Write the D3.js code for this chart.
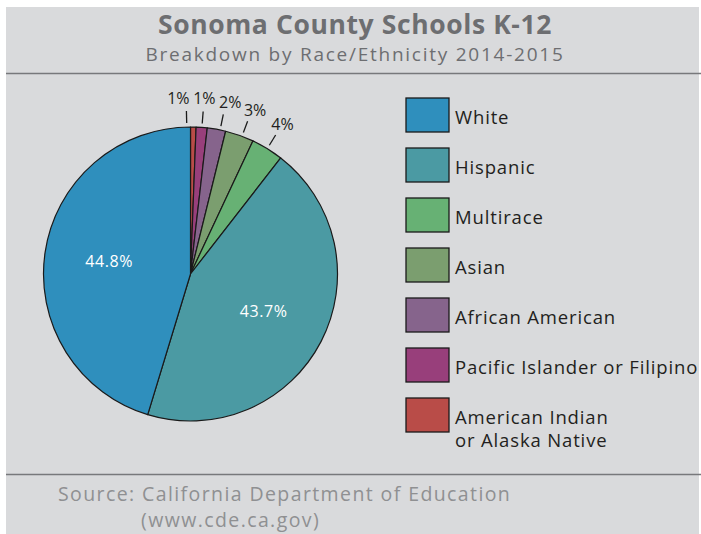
<!DOCTYPE html>
<html>
<head>
<meta charset="utf-8">
<style>
  body { margin: 0; background: #fff; }
  svg text { font-family: "Open Sans", sans-serif; }
</style>
</head>
<body>
<svg id="chart" width="701" height="534"></svg>
<script src="https://cdn.jsdelivr.net/npm/d3@7"></script>
<script>
// data, in pie order (clockwise from 12 o'clock)
const groups = ["American Indian or Alaska Native", "Pacific Islander or Filipino", "African American", "Asian", "Multirace", "Hispanic", "White"];
const shares = [0.6, 1.2, 2.0, 3.1, 3.5, 43.7, 44.8];
const shareLabels = ["1%", "1%", "2%", "3%", "4%", "43.7%", "44.8%"];
const colors = ["#b94c48", "#983f7b", "#86648c", "#7b9e6f", "#67b174", "#4b9aa3", "#2f8fbd"];
// legend runs top to bottom
const legendOrder = ["White", "Hispanic", "Multirace", "Asian", "African American", "Pacific Islander or Filipino", "American Indian or Alaska Native"];
const legendLines = [["White"], ["Hispanic"], ["Multirace"], ["Asian"], ["African American"], ["Pacific Islander or Filipino"], ["American Indian", "or Alaska Native"]];

const svg = d3.select("#chart");

svg.append("rect").attr("x", 6).attr("y", 7).attr("width", 693).attr("height", 527).attr("fill", "#d9dadc");

svg.append("text").attr("x", 355).attr("y", 34).attr("text-anchor", "middle")
  .attr("font-size", 26.5).attr("font-weight", "bold").attr("letter-spacing", 0.6).attr("fill", "#6d6e71")
  .text("Sonoma County Schools K-12");
svg.append("text").attr("x", 355).attr("y", 61).attr("text-anchor", "middle")
  .attr("font-size", 19).attr("letter-spacing", 1.75).attr("fill", "#6d6e71")
  .text("Breakdown by Race/Ethnicity 2014-2015");

svg.append("line").attr("x1", 6).attr("x2", 701).attr("y1", 73.5).attr("y2", 73.5).attr("stroke", "#77787b").attr("stroke-width", 1.5);
svg.append("line").attr("x1", 6).attr("x2", 701).attr("y1", 474.5).attr("y2", 474.5).attr("stroke", "#77787b").attr("stroke-width", 1.5);

svg.append("text").attr("x", 58).attr("y", 501).attr("font-size", 19.5).attr("letter-spacing", 1.4).attr("fill", "#8f9092")
  .text("Source: California Department of Education");
svg.append("text").attr("x", 141).attr("y", 527).attr("font-size", 19.5).attr("letter-spacing", 1.4).attr("fill", "#8f9092")
  .text("(www.cde.ca.gov)");

// pie
const cx = 190.5, cy = 274, r = 147;
const pie = d3.pie().sort(null).value(d => d);
const arcs = pie(shares);
const arc = d3.arc().innerRadius(0).outerRadius(r);
const color = d3.scaleOrdinal().domain(groups).range(colors);

const g = svg.append("g").attr("transform", `translate(${cx},${cy})`);
g.selectAll("path").data(arcs).join("path")
  .attr("d", arc)
  .attr("fill", (d, i) => color(groups[i]))
  .attr("stroke", "#1a1a1a").attr("stroke-width", 1.2).attr("stroke-linejoin", "round");

// inner labels for the two big slices
const inner = d3.arc().innerRadius(r * 0.56).outerRadius(r * 0.56);
g.selectAll("text.inner").data(arcs.filter(d => d.value > 10)).join("text")
  .attr("class", "inner")
  .attr("transform", d => `translate(${inner.centroid(d)})`)
  .attr("text-anchor", "middle").attr("dy", "0.35em")
  .attr("font-size", 16).attr("letter-spacing", 0.6).attr("fill", "#ffffff")
  .text(d => shareLabels[d.index]);

// outside labels for the small slices, spread so they don't collide
const small = arcs.filter(d => d.value < 10).map(d => ({ d, mid: (d.startAngle + d.endAngle) / 2 }));
small.forEach(s => s.a = s.mid);
const gap = 8.5 * Math.PI / 180;
for (let k = 0; k < 200; k++) {
  for (let i = 1; i < small.length; i++) {
    const diff = small[i].a - small[i - 1].a;
    if (diff < gap) {
      const push = (gap - diff) / 2;
      small[i].a += push;
      small[i - 1].a -= push;
    }
  }
}
const polar = (a, rad) => [Math.sin(a) * rad, -Math.cos(a) * rad];
const leadAngle = s => (s.a + s.mid) / 2;
g.selectAll("line.lead").data(small).join("line")
  .attr("class", "lead")
  .attr("x1", s => polar(leadAngle(s), r + 4)[0])
  .attr("y1", s => polar(leadAngle(s), r + 4)[1])
  .attr("x2", s => polar(leadAngle(s), r + 16)[0])
  .attr("y2", s => polar(leadAngle(s), r + 16)[1])
  .attr("stroke", "#1a1a1a").attr("stroke-width", 1.3);
g.selectAll("text.outer").data(small).join("text")
  .attr("class", "outer")
  .attr("x", s => polar(s.a, r + 29)[0])
  .attr("y", s => polar(s.a, r + 29)[1])
  .attr("text-anchor", "middle").attr("dy", "0.35em")
  .attr("font-size", 16).attr("fill", "#231f20")
  .text(s => shareLabels[s.d.index]);

// legend
const ly = d3.scaleBand().domain(legendOrder).range([98, 448]).paddingInner(0);
const leg = svg.append("g").selectAll("g").data(legendOrder).join("g")
  .attr("transform", d => `translate(406,${ly(d)})`);
leg.append("rect").attr("width", 43).attr("height", 34)
  .attr("fill", d => color(d)).attr("stroke", "#1a1a1a").attr("stroke-width", 1.3);
leg.append("text").attr("x", 49).attr("font-size", 18.5).attr("letter-spacing", 0.85).attr("fill", "#231f20")
  .selectAll("tspan").data((d, i) => legendLines[i]).join("tspan")
  .attr("x", 49).attr("y", (t, j) => 25.5 + j * 23)
  .text(t => t);
</script>
</body>
</html>
